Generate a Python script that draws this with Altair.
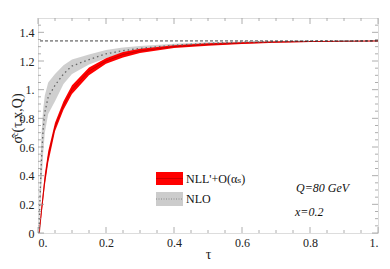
import altair as alt
import pandas as pd

# ---- data ----
red_tau = [0.004, 0.01, 0.02, 0.03, 0.05, 0.075, 0.1, 0.15, 0.2, 0.25, 0.3, 0.4, 0.5, 0.6, 0.7, 0.8, 0.9, 1.0]
red_mid = [0.0, 0.15, 0.37, 0.53, 0.74, 0.89, 1.0, 1.13, 1.20, 1.245, 1.27, 1.30, 1.315, 1.325, 1.332, 1.336, 1.338, 1.34]
red_lo = [0.0, 0.12, 0.33, 0.49, 0.71, 0.86, 0.97, 1.10, 1.18, 1.225, 1.255, 1.29, 1.307, 1.319, 1.328, 1.333, 1.336, 1.338]
red_hi = [0.02, 0.18, 0.41, 0.57, 0.77, 0.92, 1.03, 1.155, 1.22, 1.262, 1.285, 1.31, 1.323, 1.331, 1.336, 1.339, 1.34, 1.342]

nlo_tau = [0.003, 0.006, 0.01, 0.015, 0.02, 0.03, 0.05, 0.075, 0.1, 0.15, 0.2, 0.25, 0.3, 0.4, 0.5, 0.6, 0.8, 1.0]
nlo_mid = [0.0, 0.25, 0.50, 0.72, 0.84, 0.95, 1.03, 1.11, 1.165, 1.21, 1.25, 1.272, 1.288, 1.31, 1.323, 1.331, 1.338, 1.34]
nlo_lo = [0.0, 0.15, 0.33, 0.55, 0.70, 0.83, 0.92, 1.04, 1.11, 1.175, 1.22, 1.25, 1.27, 1.30, 1.317, 1.327, 1.336, 1.339]
nlo_hi = [0.05, 0.40, 0.68, 0.86, 0.96, 1.05, 1.11, 1.17, 1.21, 1.245, 1.277, 1.295, 1.305, 1.32, 1.33, 1.335, 1.34, 1.341]

asymptote = [1.34]

x_major = [0.0, 0.2, 0.4, 0.6, 0.8, 1.0]
x_minor = [0.05, 0.1, 0.15, 0.25, 0.3, 0.35, 0.45, 0.5, 0.55, 0.65, 0.7, 0.75, 0.85, 0.9, 0.95]
y_major = [0.0, 0.2, 0.4, 0.6, 0.8, 1.0, 1.2, 1.4]
y_minor = [0.05, 0.1, 0.15, 0.25, 0.3, 0.35, 0.45, 0.5, 0.55, 0.65, 0.7, 0.75, 0.85, 0.9, 0.95,
           1.05, 1.1, 1.15, 1.25, 1.3, 1.35, 1.45]

legend_labels = ["NLL'+O(\u03b1\u209b)", "NLO"]
note_labels = ["Q=80 GeV", "x=0.2"]

W, H = 340, 215
FONT = "Liberation Serif, DejaVu Serif, serif"
AX = "#999999"

red_df = pd.DataFrame({"tau": red_tau, "mid": red_mid, "lo": red_lo, "hi": red_hi})
nlo_df = pd.DataFrame({"tau": nlo_tau, "mid": nlo_mid, "lo": nlo_lo, "hi": nlo_hi})
one = pd.DataFrame({"a": [0]})

xs = alt.Scale(domain=[0, 1], nice=False, zero=False)
ys = alt.Scale(domain=[0, 1.5], nice=False, zero=False)

label_expr_x = "datum.value == 0 ? '0.' : (datum.value == 1 ? '1.' : datum.label)"
label_expr_y = "datum.value == 0 ? '0' : (datum.value == 1 ? '1.' : datum.label)"
YTITLE = "\u03c3\u0302\u1d9c(\u03c4,x,Q)"

x_axis = alt.Axis(values=x_major, labelExpr=label_expr_x, ticks=False, domain=False, grid=False,
                  title="\u03c4", labelFont=FONT, labelFontSize=12, labelColor="#222", labelPadding=4,
                  titleFont=FONT, titleFontSize=14, titleFontWeight="normal", titleColor="#222",
                  titleBaseline="alphabetic", titleY=25)
y_axis = alt.Axis(values=y_major, labelExpr=label_expr_y, ticks=False, domain=False, grid=False,
                  title=YTITLE, labelFont=FONT, labelFontSize=12,
                  labelColor="#222", labelPadding=4, titleFont=FONT, titleFontSize=14,
                  titleFontWeight="normal", titleColor="#222", titleX=-21, titleY=100,
                  titleBaseline="middle")


def X(f):
    return alt.X(f, scale=xs, axis=x_axis, title="\u03c4")


def Y(f):
    return alt.Y(f, scale=ys, axis=y_axis, title=YTITLE)


nlo_band = alt.Chart(nlo_df).mark_area(color="#cccccc", opacity=0.95).encode(
    x=X("tau:Q"), y=Y("lo:Q"), y2="hi:Q")
nlo_line = alt.Chart(nlo_df).mark_line(color="#666666", strokeDash=[1.5, 3], strokeWidth=1.3).encode(
    x=X("tau:Q"), y=Y("mid:Q"))
red_band = alt.Chart(red_df).mark_area(color="#ff0000").encode(
    x=X("tau:Q"), y=Y("lo:Q"), y2="hi:Q")
red_line = alt.Chart(red_df).mark_line(color="#c00000", strokeWidth=0.8).encode(
    x=X("tau:Q"), y=Y("mid:Q"))
dash = alt.Chart(pd.DataFrame({"y": asymptote})).mark_rule(color="#111", strokeDash=[3, 2], strokeWidth=0.8).encode(
    y=Y("y:Q"))


def xticks(vals, length):
    d = pd.DataFrame({"v": vals})
    b = alt.Chart(d).mark_rule(color=AX, strokeWidth=0.8).encode(
        x=X("v:Q"), y=alt.value(H), y2=alt.value(H - length))
    t = alt.Chart(d).mark_rule(color=AX, strokeWidth=0.8).encode(
        x=X("v:Q"), y=alt.value(0), y2=alt.value(length))
    return [b, t]


def yticks(vals, length):
    d = pd.DataFrame({"v": vals})
    l = alt.Chart(d).mark_rule(color=AX, strokeWidth=0.8).encode(
        y=Y("v:Q"), x=alt.value(0), x2=alt.value(length))
    r = alt.Chart(d).mark_rule(color=AX, strokeWidth=0.8).encode(
        y=Y("v:Q"), x=alt.value(W), x2=alt.value(W - length))
    return [l, r]


ticks = xticks(x_major, 6) + xticks(x_minor, 3) + yticks(y_major, 6) + yticks(y_minor, 3)

# legend
LX = 118
leg_red = alt.Chart(one).mark_rect(color="#ff0000").encode(
    x=alt.value(LX), x2=alt.value(LX + 27), y=alt.value(154), y2=alt.value(167))
leg_red_line = alt.Chart(one).mark_rule(color="#c00000", strokeWidth=0.8).encode(
    x=alt.value(LX), x2=alt.value(LX + 27), y=alt.value(160.5))
leg_gray = alt.Chart(one).mark_rect(color="#cccccc").encode(
    x=alt.value(LX), x2=alt.value(LX + 27), y=alt.value(174), y2=alt.value(188))
leg_gray_line = alt.Chart(one).mark_rule(color="#777", strokeDash=[1, 1.5], strokeWidth=0.8).encode(
    x=alt.value(LX), x2=alt.value(LX + 27), y=alt.value(181))
leg_t1 = alt.Chart(one).mark_text(font=FONT, fontSize=12, align="left", baseline="middle", color="#111").encode(
    x=alt.value(LX + 30), y=alt.value(161), text=alt.value(legend_labels[0]))
leg_t2 = alt.Chart(one).mark_text(font=FONT, fontSize=12, align="left", baseline="middle", color="#111").encode(
    x=alt.value(LX + 30), y=alt.value(181), text=alt.value(legend_labels[1]))
note1 = alt.Chart(one).mark_text(font=FONT, fontSize=12, fontStyle="italic", align="left", baseline="middle",
                                 color="#111").encode(x=alt.value(258), y=alt.value(170), text=alt.value(note_labels[0]))
note2 = alt.Chart(one).mark_text(font=FONT, fontSize=12, fontStyle="italic", align="left", baseline="middle",
                                 color="#111").encode(x=alt.value(257), y=alt.value(194), text=alt.value(note_labels[1]))

chart = alt.layer(nlo_band, red_band, red_line, nlo_line, dash, *ticks,
                  leg_red, leg_red_line, leg_gray, leg_gray_line, leg_t1, leg_t2, note1, note2).properties(
    width=W, height=H, autosize=alt.AutoSizeParams(type="none"),
    padding={"left": 30, "top": 10, "right": 4, "bottom": 28},
).configure_view(stroke=AX, strokeWidth=1).configure(background="white")

chart.save("out.html", embed_options={"renderer": "svg", "actions": False})
